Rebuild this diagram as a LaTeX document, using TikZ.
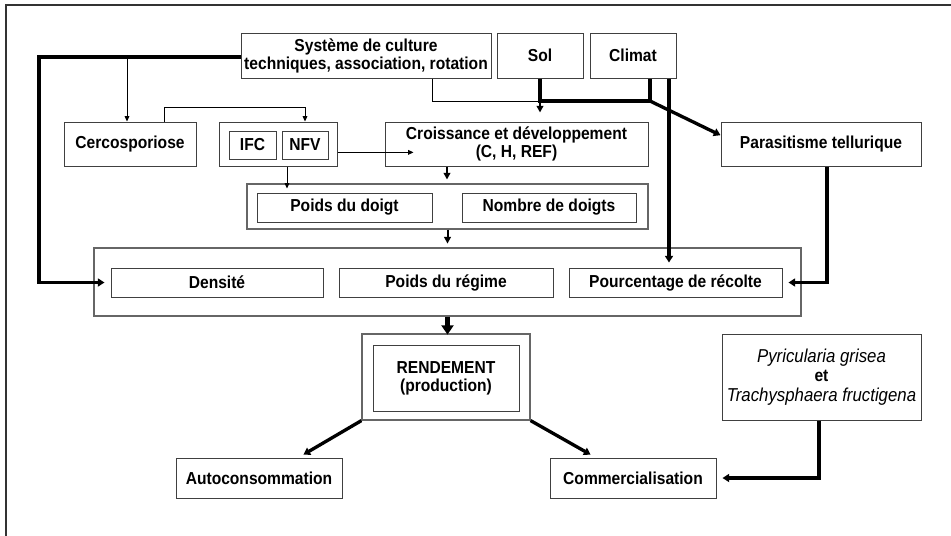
\documentclass[tikz,border=0pt]{standalone}
\usepackage{fontspec}
\setmainfont{Liberation Sans}[FakeStretch=0.9]
\usetikzlibrary{arrows.meta}
\begin{document}
\begin{tikzpicture}[
  x=0.75pt, y=-0.75pt,
  line cap=butt, line join=miter,
  every node/.style={inner sep=0pt, align=center, font=\bfseries\fontsize{13pt}{13.5pt}\selectfont},
  boite/.style={draw=black!75, line width=0.75pt},
  groupe/.style={draw=black!60, line width=0.9pt},
  fin/.style={line width=0.6pt, -{Triangle[length=4pt,width=3.5pt]}},
  epais/.style={line width=2.5pt},
  epaisfl/.style={line width=2.5pt, -{Triangle[length=5pt,width=6pt]}},
  moyen/.style={line width=1.5pt, -{Triangle[length=5pt,width=5pt]}},
  lourd/.style={line width=3.5pt, -{Triangle[length=7pt,width=9pt]}}
]
  \useasboundingbox (0,0) rectangle (951,536);
  % ---- cadre ----
  \draw[black!80, line width=1.5pt] (6,536) -- (6,5) -- (951,5);
  % ---- facteurs ----
  \node[boite, minimum width=187.5pt, minimum height=33.75pt] (sys) at (366,55.5) {Système de culture\\techniques, association, rotation};
  \node[boite, minimum width=64.5pt, minimum height=33.75pt] (sol) at (540,55.5) {Sol};
  \node[boite, minimum width=64.5pt, minimum height=33.75pt] (clim) at (633,55.5) {Climat};
  \node[boite, minimum width=99pt, minimum height=33pt] (cerco) at (130,144) {Cercosporiose};
  \node[boite, minimum width=88.5pt, minimum height=33pt] (fv) at (278,144) {};
  \node[boite, minimum width=35.25pt, minimum height=21pt] (ifc) at (252.5,145) {IFC};
  \node[boite, minimum width=34.5pt, minimum height=21pt] (nfv) at (305,145) {NFV};
  \node[boite, minimum width=197.25pt, minimum height=33pt] (crois) at (516.5,144) {Croissance et développement\\(C, H, REF)};
  \node[boite, minimum width=150pt, minimum height=33pt] (para) at (821,144) {Parasitisme tellurique};
  % ---- composantes ----
  \node[groupe, minimum width=300.75pt, minimum height=33.75pt] (grp) at (447.5,206.5) {};
  \node[boite, minimum width=131.25pt, minimum height=21.75pt] (poidsd) at (344.5,207.5) {Poids du doigt};
  \node[boite, minimum width=130.5pt, minimum height=21.75pt] (nbd) at (549,207.5) {Nombre de doigts};
  \node[groupe, minimum width=530.25pt, minimum height=51pt] (reg) at (447.5,282) {};
  \node[boite, minimum width=159pt, minimum height=21.75pt] (dens) at (217,282.5) {Densité};
  \node[boite, minimum width=160.5pt, minimum height=21.75pt] (preg) at (446,282.5) {Poids du régime};
  \node[boite, minimum width=159.75pt, minimum height=21.75pt] (pourc) at (675.5,282.5) {Pourcentage de récolte};
  % ---- rendement ----
  \node[groupe, minimum width=126pt, minimum height=64.5pt] (rendo) at (446,377) {};
  \node[boite, minimum width=109.5pt, minimum height=49.5pt] (rendi) at (446,378) {RENDEMENT\\(production)};
  \node[boite, minimum width=149.25pt, minimum height=64.5pt,
        font=\bfseries\fontsize{13pt}{14.5pt}\selectfont] (pyr) at (821.5,377)
        {{\mdseries\itshape\fontsize{14pt}{14.5pt}\selectfont Pyricularia grisea}\\et\\{\mdseries\itshape\fontsize{14pt}{14.5pt}\selectfont Trachysphaera fructigena}};
  \node[boite, minimum width=124.5pt, minimum height=30pt] (auto) at (259,478) {Autoconsommation};
  \node[boite, minimum width=124.5pt, minimum height=30pt] (comm) at (633,478) {Commercialisation};
  % ---- liaisons ----
  \coordinate (lft) at (39,57);
  \coordinate (cbr) at (127,57);
  \coordinate (cn) at (164,107);
  \coordinate (sb) at (432,101);
  \coordinate (mid) at (540,101);
  \coordinate (cj) at (650,101);
  \draw[epaisfl, shorten >=4.5pt] (sys.west |- lft) -- (lft) |- (dens.west);
  \draw[fin] (cbr) -- (cbr |- cerco.north);
  \draw[fin] (cerco.north -| cn) -- (cn) -| (nfv |- fv.north);
  \draw[line width=0.75pt] (sys.south -| sb) -- (sb) -- (mid);
  \draw[epais] (sol.south) -- (mid) -- (cj) -- (clim.south -| cj);
  \draw[moyen, shorten >=6.75pt] (mid) -- (mid |- crois.north);
  \draw[epaisfl] (cj) -- (para.175);
  \draw[epaisfl, shorten >=3.75pt] (clim.south -| 669,0) -- (669,0 |- pourc.north);
  \draw[epaisfl, shorten >=4.5pt] (para.south -| 827,0) |- (pourc.east);
  \draw[fin] (fv.-8) -- ++(76,0);
  \draw[fin] (fv.south -| 287,0) -- ++(0,22);
  \draw[moyen] (crois.south -| 447,0) -- ++(0,13);
  \draw[moyen] (grp.south) -- ++(0,14);
  \draw[lourd] (reg.south) -- ++(0,18);
  \draw[epaisfl] (rendo.south west) -- ++(-58,34);
  \draw[epaisfl] (rendo.south east) -- ++(60,34);
  \draw[epaisfl, shorten >=4.5pt] (pyr.south -| 819,0) |- (comm.east);
\end{tikzpicture}
\end{document}
